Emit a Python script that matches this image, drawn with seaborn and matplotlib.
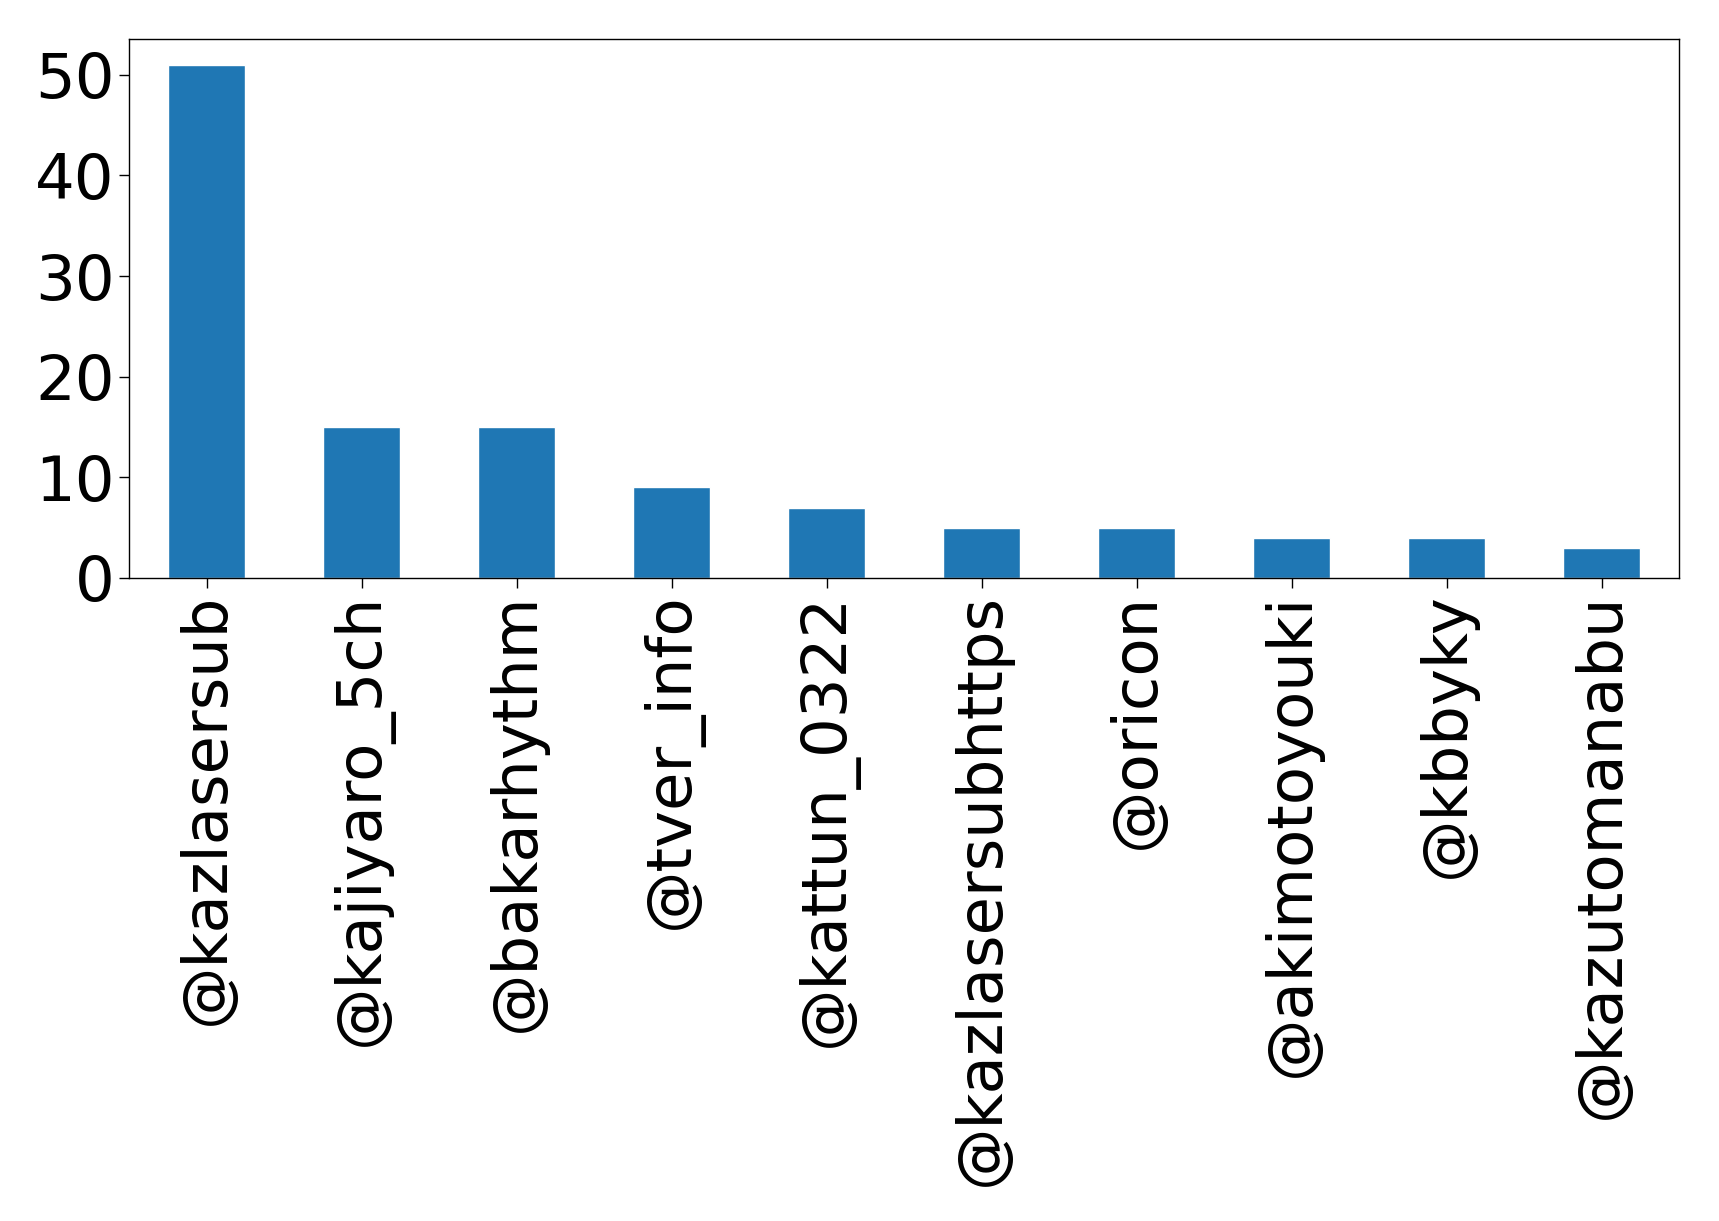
import matplotlib
matplotlib.use("Agg")
import matplotlib.pyplot as plt
import seaborn as sns
import pandas as pd

users = ["@kazlasersub", "@kajiyaro_5ch", "@bakarhythm", "@tver_info", "@kattun_0322",
         "@kazlasersubhttps", "@oricon", "@akimotoyouki", "@kbbyky", "@kazutomanabu"]
counts = [51, 15, 15, 9, 7, 5, 5, 4, 4, 3]

df = pd.DataFrame({"user": users, "count": counts})

sns.set_style("ticks")
plt.rcParams['font.family'] = ['DejaVu Sans']

fig = plt.figure(figsize=(17.19, 12.21), dpi=100)
ax = fig.add_axes([129/1719, 1 - 578/1221, (1679-129)/1719, (578-39)/1221])
sns.barplot(data=df, x="user", y="count", color="#1f77b4", saturation=1, width=0.5, ax=ax)
ax.set_xlabel("")
ax.set_ylabel("")
ax.set_xlim(-0.5, 9.5)
ax.set_ylim(0, 53.55)
ax.set_yticks([0, 10, 20, 30, 40, 50])
ax.tick_params(axis="both", labelsize=45, length=7, width=1.0, colors="black")
plt.setp(ax.get_xticklabels(), rotation=90)
for s in ax.spines.values():
    s.set_visible(True)
    s.set_linewidth(1.0)
    s.set_color("black")
fig.savefig("out.png", dpi=100)
